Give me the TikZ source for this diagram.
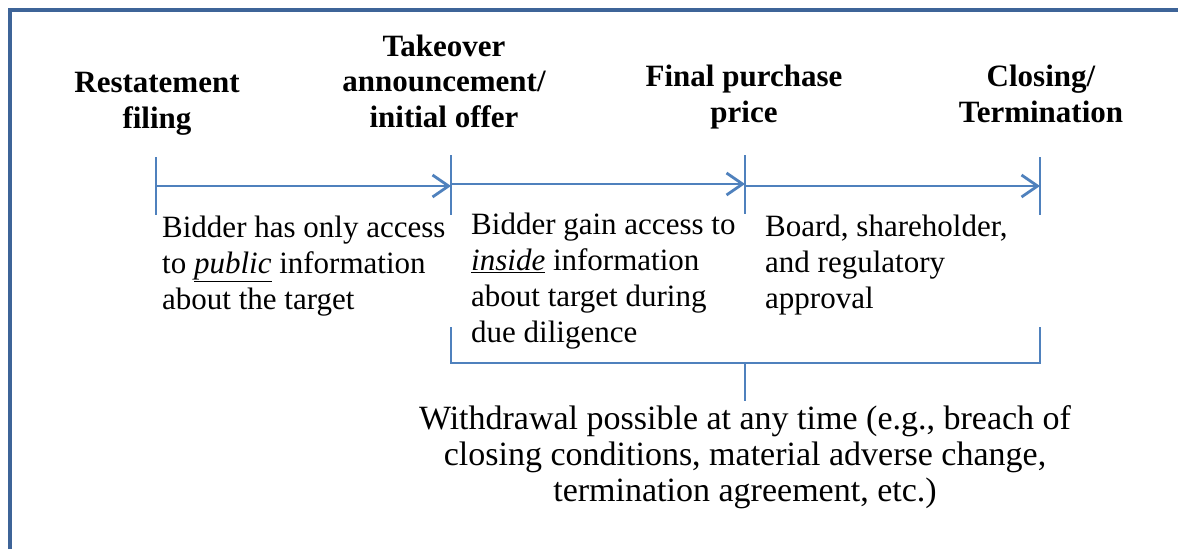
\documentclass[tikz,border=0pt]{standalone}
\usepackage{fontspec}
\setmainfont{Liberation Serif}
\usetikzlibrary{arrows.meta}
\definecolor{framec}{RGB}{62,100,152}
\definecolor{linec}{RGB}{79,129,189}
\begin{document}
\begin{tikzpicture}[x=1pt,y=-1pt,
  head/.style={font=\fontsize{31}{35.5}\selectfont\bfseries, align=center, inner sep=0pt},
  body/.style={font=\fontsize{31}{36}\selectfont, align=left, inner sep=0pt},
  tl/.style={draw=linec, line width=2.8pt},
  arr/.style={draw=linec, line width=2.8pt, -{Straight Barb[length=16pt,width=22pt,line width=2.8pt]}}]
\useasboundingbox (0,0) rectangle (1178,549);
\fill[white] (0,0) rectangle (1178,549);
% frame
\draw[framec, line width=4pt] (10,549) -- (10,9.5) -- (1178,9.5);
% ticks
\coordinate (a1) at (156,157); \coordinate (a2) at (156,215);
\coordinate (b1) at (451,155); \coordinate (b2) at (451,215);
\coordinate (c1) at (745,155); \coordinate (c2) at (745,214);
\coordinate (d1) at (1040,157); \coordinate (d2) at (1040,215);
\draw[tl] (a1) -- (a2);
\draw[tl] (b1) -- (b2);
\draw[tl] (c1) -- (c2);
\draw[tl] (d1) -- (d2);
\coordinate (p1) at (156,186); \coordinate (p2) at (451,186);
\coordinate (q1) at (451,184); \coordinate (q2) at (745,184);
\coordinate (r1) at (745,186); \coordinate (r2) at (1040,186);
\draw[arr] (p1) -- (p2);
\draw[arr] (q1) -- (q2);
\draw[arr] (r1) -- (r2);
% bracket
\coordinate (k1) at (451,327); \coordinate (k2) at (451,363);
\coordinate (k3) at (1040,363); \coordinate (k4) at (1040,327);
\coordinate (s1) at (745,363); \coordinate (s2) at (745,401);
\draw[tl] (k1) -- (k2) -- (k3) -- (k4);
\draw[tl] (s1) -- (s2);
% headings (anchor base = baseline of last line)
\node[head, anchor=base] (h1) at (157,128) {Restatement\\filing};
\node[head, anchor=base] (h2) at (444,127) {Takeover\\announcement/\\initial offer};
\node[head, anchor=base] (h3) at (744,122) {Final purchase\\price};
\node[head, anchor=base] (h4) at (1041,122) {Closing/\\Termination};
% body
\node[body, anchor=base west] (t1) at (162,309) {Bidder has only access\\to \underline{\textit{public}} information\\about the target};
\node[body, anchor=base west] (t2) at (471,342) {Bidder gain access to\\\underline{\textit{inside}} information\\about target during\\due diligence};
\node[body, anchor=base west] (t3) at (765,308) {Board, shareholder,\\and regulatory\\approval};
\node[body, font=\fontsize{34}{36}\selectfont, align=center, anchor=base] (t4) at (745,501) {Withdrawal possible at any time (e.g., breach of\\closing conditions, material adverse change,\\termination agreement, etc.)};
\end{tikzpicture}
\end{document}
